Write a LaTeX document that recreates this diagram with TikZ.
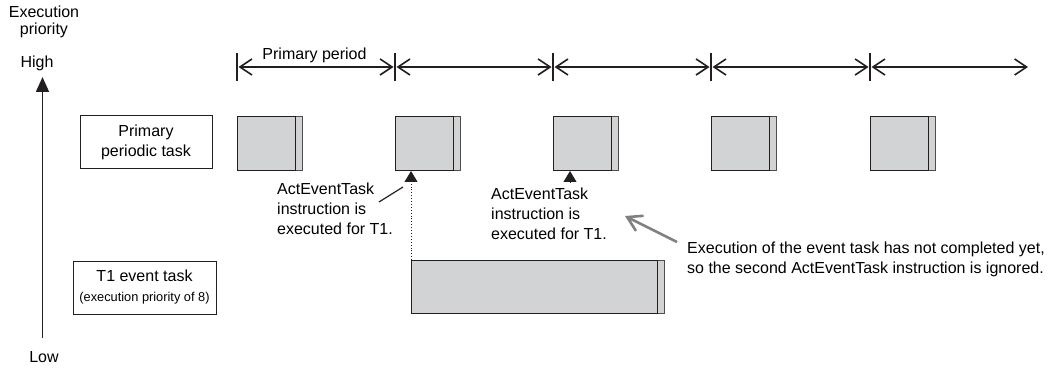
\documentclass[tikz,border=0pt]{standalone}
\usepackage{fontspec}
\setmainfont{Liberation Sans}
\usetikzlibrary{arrows.meta,positioning,calc}
\definecolor{runfill}{HTML}{D1D3D4}
\definecolor{ink}{HTML}{231F20}
\definecolor{notegray}{HTML}{808080}
\newcommand{\normaltext}{\fontsize{16}{20}\selectfont}
\newcommand{\smalltext}{\fontsize{12.8}{16}\selectfont}
\tikzset{
  period/.style={{Straight Barb[length=12pt,width=16pt]}-{Straight Barb[length=12pt,width=16pt]},line width=1.6pt,ink},
  tick/.style={line width=1.3pt,ink},
  runbox/.style={draw=ink,fill=runfill,line width=1pt,inner sep=0pt,outer sep=0pt,anchor=north west,minimum height=54pt},
  tailbox/.style={runbox,draw=ink!80,minimum width=7pt},
  tasklabel/.style={draw=ink,line width=1pt,align=center,inner sep=0pt,font=\normaltext},
  note/.style={font=\normaltext,align=left,anchor=base west,inner sep=0pt},
  trigger/.style={-{Triangle[length=11pt,width=13pt]},ink,line width=0.9pt},
  ignored/.style={-{Straight Barb[length=14pt,width=17pt]},line width=2.6pt,notegray}
}

\begin{document}
\begin{tikzpicture}[x=1pt,y=-1pt]
\useasboundingbox (0,0) rectangle (1051,371);
% priority axis
\node[font=\normaltext,align=center,anchor=base] (prio) at (44,35) {Execution\\[-3pt]priority};
\node[font=\normaltext,anchor=base] (high) at (37,68) {High};
\node[font=\normaltext,anchor=base] (low) at (44,362) {Low};
\coordinate (axbot) at (42.5,338);
\coordinate (axtop) at (42.5,77);
\draw[-{Triangle[length=15pt,width=13pt]},line width=1.6pt,ink] (axbot) -- (axtop);

% task names
\node[tasklabel,minimum width=132pt,minimum height=53pt] (ppt) at (146,142.5) {Primary\\periodic task};
\node[tasklabel,minimum width=143pt,minimum height=53pt] (evt) at (144.5,287.5)
  {T1 event task\\{\smalltext(execution priority of 8)}};

% primary periods
\node[font=\normaltext,anchor=base] (plabel) at (314.5,60) {Primary period};
\foreach \i/\tx in {0/237,1/395,2/553,3/711,4/870}{
  \coordinate (t\i) at (\tx,67);
  \draw[tick] (\tx,53) -- (\tx,81);
  \node[tailbox] (tail\i) at (\tx+58,117) {};
  \node[runbox,minimum width=58pt] (run\i) at (\tx,117) {};
}
\coordinate (t5) at (1029.5,67);
\foreach \i/\j in {0/1,1/2,2/3,3/4,4/5}
  \draw[period,shorten <=1.5pt,shorten >=1.5pt] (t\i) -- (t\j);

% event task
\node[tailbox,minimum height=53pt] (evtail) at (657,260) {};
\node[runbox,minimum width=246pt,minimum height=53pt] (evrun) at (411,260) {};

% ActEventTask calls
\draw[trigger,dotted] (evrun.north west) -- (evrun.north west |- run1.south);
\coordinate (tr2) at ($(run2.south west)+(17,11)$);
\draw[trigger] (tr2) -- (tr2 |- run2.south);

% last line baselines
\node[note] (note1) at (277,235) {ActEventTask\\instruction is\\executed for T1.};
\node[note] (note2) at (491,240) {ActEventTask\\instruction is\\executed for T1.};
\node[note] (note3) at (687,273)
  {Execution of the event task has not completed yet,\\so the second ActEventTask instruction is ignored.};

\coordinate (ld1) at (379,202);
\coordinate (ld2) at (403,187);
\draw[line width=1.2pt,ink] (ld1) -- (ld2);
\coordinate (gr1) at (677,242);
\coordinate (gr2) at (625,216);
\draw[ignored] (gr1) -- (gr2);
\end{tikzpicture}
\end{document}
